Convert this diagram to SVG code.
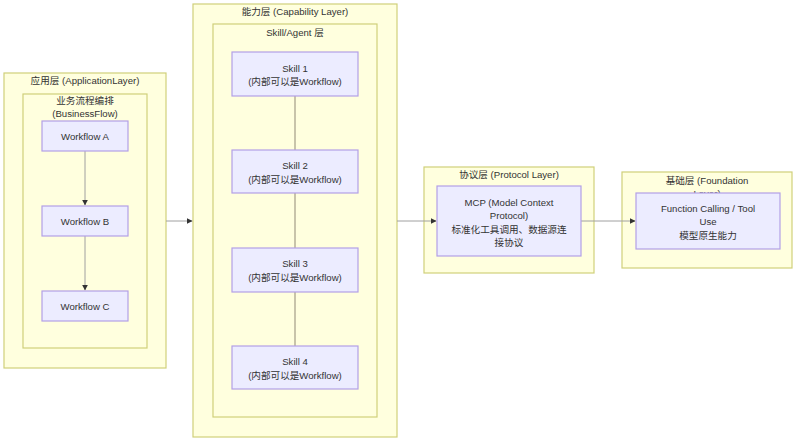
<svg xmlns="http://www.w3.org/2000/svg" width="797" height="442" viewBox="0 0 797 442">
<style>
.cl{fill:#ffffde;stroke:#d0d07a;stroke-width:1.2}
.nd{fill:#ececff;stroke:#b3a0e6;stroke-width:1.2}
text{font-family:"Liberation Sans","Noto Sans CJK SC",sans-serif;font-size:9.6px;fill:#333;text-anchor:middle;dominant-baseline:central}
.ln{fill:none;stroke:#a0a0a0;stroke-width:1}
.sk{fill:none;stroke:#c8c4aa;stroke-width:2}
</style>
<defs>
<marker id="ah" viewBox="0 0 10 10" refX="9" refY="5" markerWidth="6" markerHeight="6" orient="auto" markerUnits="userSpaceOnUse">
<path d="M0,0L10,5L0,10z" fill="#333"/>
</marker>
</defs>
<rect width="797" height="442" fill="#fff"/>
<g id="app-layer">
<rect class="cl" x="4" y="73" width="162" height="295"/>
<text x="85" y="80">应用层 (ApplicationLayer)</text>
</g>
<g id="business-flow">
<rect class="cl" x="23" y="94" width="124" height="254"/>
<text x="85" y="100">业务流程编排</text>
<text x="85" y="113">(BusinessFlow)</text>
</g>
<g id="cap-layer">
<rect class="cl" x="193" y="4" width="204" height="433"/>
<text x="295" y="11">能力层 (Capability Layer)</text>
</g>
<g id="skill-agent">
<rect class="cl" x="213" y="24" width="164" height="393"/>
<text x="295" y="32">Skill/Agent 层</text>
</g>
<g id="protocol-layer">
<rect class="cl" x="424" y="167" width="170" height="106"/>
<text x="509" y="174">协议层 (Protocol Layer)</text>
</g>
<g id="foundation-layer">
<rect class="cl" x="622" y="172" width="170" height="96"/>
<text x="707" y="180">基础层 (Foundation</text>
<text x="707" y="193">Layer)</text>
</g>
<g id="connectors">
<path class="ln" d="M85,151V205" marker-end="url(#ah)"/>
<path class="ln" d="M85,236V290" marker-end="url(#ah)"/>
<path class="sk" d="M295,96V150"/>
<path class="sk" d="M295,193V248"/>
<path class="sk" d="M295,292V346"/>
<path class="ln" d="M166,221H192" marker-end="url(#ah)"/>
<path class="ln" d="M397,221H436" marker-end="url(#ah)"/>
<path class="ln" d="M581,221H635" marker-end="url(#ah)"/>
</g>
<g id="wf-a">
<rect class="nd" x="42" y="121" width="86" height="30"/>
<text x="85" y="136">Workflow A</text>
</g>
<g id="wf-b">
<rect class="nd" x="42" y="206" width="86" height="30"/>
<text x="85" y="221">Workflow B</text>
</g>
<g id="wf-c">
<rect class="nd" x="42" y="291" width="86" height="30"/>
<text x="85" y="306">Workflow C</text>
</g>
<g id="skill1">
<rect class="nd" x="232" y="52" width="126" height="44"/>
<text x="295" y="68">Skill 1</text>
<text x="295" y="81">(内部可以是Workflow)</text>
</g>
<g id="skill2">
<rect class="nd" x="232" y="150" width="126" height="43"/>
<text x="295" y="165">Skill 2</text>
<text x="295" y="179">(内部可以是Workflow)</text>
</g>
<g id="skill3">
<rect class="nd" x="232" y="248" width="126" height="44"/>
<text x="295" y="263">Skill 3</text>
<text x="295" y="277">(内部可以是Workflow)</text>
</g>
<g id="skill4">
<rect class="nd" x="232" y="346" width="126" height="43"/>
<text x="295" y="361">Skill 4</text>
<text x="295" y="375">(内部可以是Workflow)</text>
</g>
<g id="mcp">
<rect class="nd" x="437" y="186" width="144" height="70"/>
<text x="509" y="202">MCP (Model Context</text>
<text x="509" y="215">Protocol)</text>
<text x="509" y="229">标准化工具调用、数据源连</text>
<text x="509" y="242">接协议</text>
</g>
<g id="fc">
<rect class="nd" x="636" y="193" width="144" height="56"/>
<text x="708" y="208">Function Calling / Tool</text>
<text x="708" y="221">Use</text>
<text x="708" y="235">模型原生能力</text>
</g>
</svg>
